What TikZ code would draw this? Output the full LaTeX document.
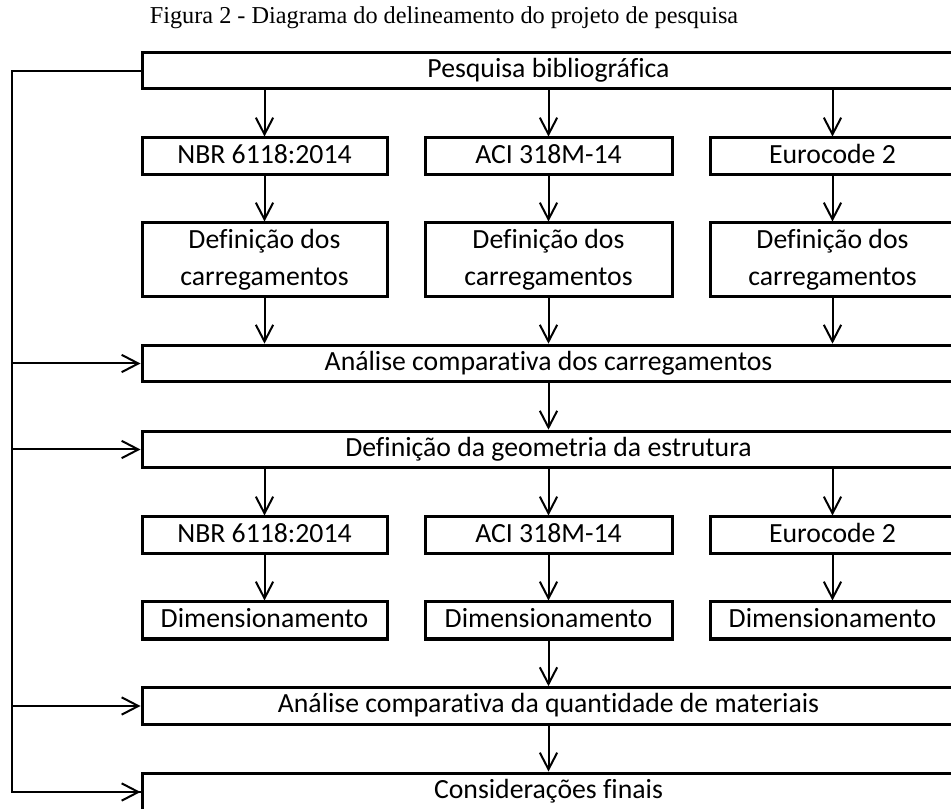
\documentclass[tikz,border=0pt]{standalone}
\usepackage{fontspec}
\setmainfont{Carlito}[Ligatures={NoCommon,NoContextual},RawFeature={-liga;-clig;-dlig;-calt}]
\newfontfamily\titlefont{Liberation Serif}
\newcommand\nlg{\kern0pt{}}
\usetikzlibrary{arrows.meta}
\begin{document}
\begin{tikzpicture}[x=0.75pt,y=-0.75pt,
  box/.style={draw, line width=2.25pt, inner sep=0pt, align=center,
    font=\fontsize{20.8}{27.7}\selectfont},
  one/.style={box, text height=14.5pt, text depth=4.5pt},
  wide/.style={one, minimum width=609.75pt, minimum height=27.5pt},
  code/.style={one, minimum width=183.75pt, minimum height=27.75pt},
  twoline/.style={box, minimum width=183.75pt, minimum height=55.5pt},
  conn/.style={line width=1.5pt},
  arr/.style={conn, -{Straight Barb[length=12.5pt,width=13pt,line width=1.5pt]}}]
\useasboundingbox (0,0) rectangle (951,809);

\node[font=\titlefont\fontsize{18.2}{22}\selectfont] (title) at (444,18)
  {Figura 2 - Diagrama do delineamento do projeto de pesquisa};

\node[wide, minimum height=27pt] (top) at (548.5,71) {Pesquisa bibliográfica};

\node[code] (a1) at (264.5,156.5) {NBR 6118:2014};
\node[code, minimum width=185.25pt] (a2) at (548.5,156.5) {ACI 318M-14};
\node[code] (a3) at (832.5,156.5) {Eurocode 2};

\node[twoline] (b1) at (264.5,260) {Def\nlg inição dos\\carregamentos};
\node[twoline, minimum width=185.25pt] (b2) at (548.5,260) {Def\nlg inição dos\\carregamentos};
\node[twoline] (b3) at (832.5,260) {Def\nlg inição dos\\carregamentos};

\node[wide] (ac) at (548.5,363.5) {Análise comparat\nlg iva dos carregamentos};
\node[wide] (geo) at (548.5,449.5) {Def\nlg inição da geometria da estrutura};

\node[code] (c1) at (264.5,535.5) {NBR 6118:2014};
\node[code, minimum width=185.25pt] (c2) at (548.5,535.5) {ACI 318M-14};
\node[code] (c3) at (832.5,535.5) {Eurocode 2};

\node[code] (d1) at (264.5,620.5) {Dimensionamento};
\node[code, minimum width=185.25pt] (d2) at (548.5,620.5) {Dimensionamento};
\node[code] (d3) at (832.5,620.5) {Dimensionamento};

\node[wide] (mat) at (548.5,706) {Análise comparat\nlg iva da quant\nlg idade de materiais};
\node[wide, minimum height=28.5pt] (fin) at (548.5,792) {Considerações f\nlg inais};

% vertical arrows
\foreach \i in {1,2,3}{
  \draw[arr] (top.south -| a\i.north) -- (a\i.north);
  \draw[arr] (a\i) -- (b\i);
  \draw[arr] (b\i.south) -- (ac.north -| b\i.south);
  \draw[arr] (geo.south -| c\i.north) -- (c\i.north);
  \draw[arr] (c\i) -- (d\i);
}
\draw[arr] (ac.south -| b2.south) -- (geo.north -| b2.south);
\draw[arr] (d2) -- (mat.north -| d2.south);
\draw[arr] (mat.south -| d2.south) -- (fin.north -| d2.south);

% feedback line
\coordinate (fb) at (12,0);
\draw[conn] (top.west) -- (top.west -| fb) -- (fin.west -| fb) -- (fin.west);
\draw[arr] (fin.west -| fb) -- (fin.west);
\draw[arr] (ac.west -| fb) -- (ac.west);
\draw[arr] (geo.west -| fb) -- (geo.west);
\draw[arr] (mat.west -| fb) -- (mat.west);
\end{tikzpicture}
\end{document}
